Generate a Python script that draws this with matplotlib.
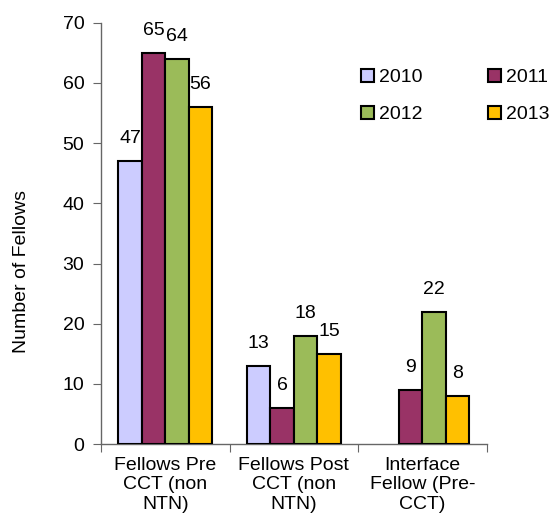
import matplotlib
matplotlib.use("Agg")
import matplotlib.pyplot as plt
import numpy as np

categories = ["Fellows Pre\nCCT (non\nNTN)", "Fellows Post\nCCT (non\nNTN)", "Interface\nFellow (Pre-\nCCT)"]
years = ["2010", "2011", "2012", "2013"]
values_2010 = [47, 13, 0]
values_2011 = [65, 6, 9]
values_2012 = [64, 18, 22]
values_2013 = [56, 15, 8]
colors = ["#CCCCFF", "#993366", "#9BBB59", "#FFC000"]

series = [values_2010, values_2011, values_2012, values_2013]

plt.rcParams["font.family"] = ["Liberation Sans", "DejaVu Sans"]
fs = 14

fig = plt.figure(figsize=(5.55, 5.17), dpi=100)
ax = fig.add_axes([0.182, 0.141, 0.695, 0.815])

x = np.arange(len(categories))
group_w = 0.73
bw = group_w / len(series)
handles = []
for i, (vals, col, yr) in enumerate(zip(series, colors, years)):
    pos = x - group_w / 2 + bw * (i + 0.5)
    bars = ax.bar(pos, vals, width=bw, color=col, edgecolor="black",
                  linewidth=1.5, label=yr, zorder=3)
    handles.append(bars)
    for b, v in zip(bars, vals):
        if v > 0:
            ax.annotate(str(v), (b.get_x() + b.get_width() / 2, v),
                        xytext=(0, 10), textcoords="offset points",
                        ha="center", va="bottom", fontsize=fs)
        else:
            b.set_visible(False)

ax.set_xlim(-0.5, len(categories) - 0.5)
ax.set_ylim(0, 70)
ax.set_yticks(range(0, 71, 10))
ax.set_xticks(np.arange(-0.5, len(categories), 1.0))
ax.set_xticklabels([])
ax.set_xticks(x, minor=True)
ax.set_xticklabels(categories, minor=True, fontsize=fs, linespacing=1.2)
ax.tick_params(axis="x", which="minor", length=0, pad=9)
ax.tick_params(axis="x", which="major", length=6, color="#666666", direction="out")
ax.tick_params(axis="y", labelsize=fs, length=6, color="#666666", pad=6)

for s in ["top", "right"]:
    ax.spines[s].set_visible(False)
for s in ["left", "bottom"]:
    ax.spines[s].set_color("#666666")
    ax.spines[s].set_linewidth(1.0)

ax.set_ylabel("Number of Fellows", fontsize=fs)
ax.yaxis.set_label_coords(-0.185, 0.41)

# legend reads row-wise: 2010, 2011 / 2012, 2013
order = [0, 2, 1, 3]
leg = ax.legend([handles[k] for k in order], [years[k] for k in order],
                ncol=2, frameon=False, fontsize=fs, loc="upper left",
                bbox_to_anchor=(361 / 555, 1 - 69 / 517), bbox_transform=fig.transFigure,
                handlelength=0.65, handleheight=0.65, handletextpad=0.25,
                columnspacing=3.4, labelspacing=1.0, borderaxespad=0, borderpad=0)

fig.savefig("out.png", dpi=100)
